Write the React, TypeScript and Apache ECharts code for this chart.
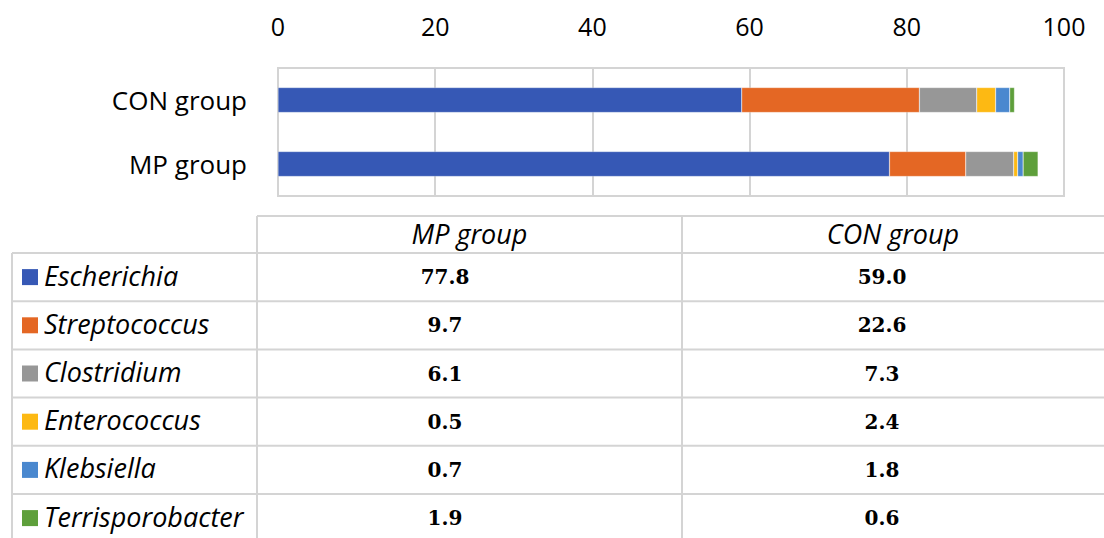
import React, { useEffect, useRef } from "react";
import * as echarts from "echarts";

const groups = ["CON group", "MP group"];
const taxa = ["Escherichia", "Streptococcus", "Clostridium", "Enterococcus", "Klebsiella", "Terrisporobacter"];
const colors = ["#3658b5", "#e46724", "#979797", "#fdb913", "#4a88cf", "#5e9f3b"];
const mpValues = [77.8, 9.7, 6.1, 0.5, 0.7, 1.9];
const conValues = [59.0, 22.6, 7.3, 2.4, 1.8, 0.6];
const tableHeaders = ["MP group", "CON group"];

export default function App() {
  const ref = useRef<HTMLDivElement>(null);
  useEffect(() => {
    if (!ref.current) return;
    const chart = echarts.init(ref.current, undefined, { renderer: "svg" });
    const lineColor = "#d4d4d4";
    const sansFont = "'Open Sans'";
    const headerY = 216;
    const rowTop = 253;
    const rowH = 48.2;
    const colLeft = 12;
    const col1 = 257;
    const col2 = 682;
    const right = 1104;
    const mpX = 445;
    const conX = 882;

    const graphics: any[] = [];
    graphics.push({ type: "line", shape: { x1: col1, y1: headerY, x2: right, y2: headerY }, style: { stroke: lineColor, lineWidth: 2 } });
    for (let i = 0; i <= taxa.length; i++) {
      const y = rowTop + i * rowH;
      graphics.push({ type: "line", shape: { x1: colLeft, y1: y, x2: right, y2: y }, style: { stroke: lineColor, lineWidth: 2 } });
    }
    graphics.push({ type: "line", shape: { x1: colLeft, y1: rowTop, x2: colLeft, y2: 538 }, style: { stroke: lineColor, lineWidth: 2 } });
    graphics.push({ type: "line", shape: { x1: col1, y1: headerY, x2: col1, y2: 538 }, style: { stroke: lineColor, lineWidth: 2 } });
    graphics.push({ type: "line", shape: { x1: col2, y1: headerY, x2: col2, y2: 538 }, style: { stroke: lineColor, lineWidth: 2 } });
    const headerCenters = [(col1 + col2) / 2, (col2 + right) / 2];
    tableHeaders.forEach((h, i) => {
      graphics.push({
        type: "text",
        x: headerCenters[i],
        y: (headerY + rowTop) / 2 - 1,
        style: { text: h, font: `italic 27px ${sansFont}`, fill: "#000", align: "center", verticalAlign: "middle" },
      });
    });
    taxa.forEach((t, i) => {
      const cy = rowTop + i * rowH + rowH / 2;
      graphics.push({ type: "rect", shape: { x: 22, y: cy - 8, width: 16, height: 16 }, style: { fill: colors[i] } });
      graphics.push({
        type: "text",
        x: 44,
        y: cy - 2,
        style: { text: t, font: `italic 27px ${sansFont}`, fill: "#000", align: "left", verticalAlign: "middle" },
      });
      graphics.push({
        type: "text",
        x: mpX,
        y: cy,
        style: { text: mpValues[i].toFixed(1), font: `bold 20px 'DejaVu Serif'`, fill: "#000", align: "center", verticalAlign: "middle" },
      });
      graphics.push({
        type: "text",
        x: conX,
        y: cy,
        style: { text: conValues[i].toFixed(1), font: `bold 20px 'DejaVu Serif'`, fill: "#000", align: "center", verticalAlign: "middle" },
      });
    });

    chart.setOption({
      animation: false,
      grid: { left: 278, right: 40, top: 68, bottom: 342, show: true, borderColor: lineColor, borderWidth: 2, backgroundColor: "transparent" },
      xAxis: {
        type: "value",
        position: "top",
        min: 0,
        max: 100,
        interval: 20,
        axisLine: { show: false },
        axisTick: { show: false },
        axisLabel: { fontFamily: sansFont, fontSize: 25, color: "#000", margin: 30 },
        splitLine: { lineStyle: { color: lineColor, width: 2 } },
      },
      yAxis: {
        type: "category",
        inverse: true,
        data: groups,
        axisLine: { show: false },
        axisTick: { show: false },
        axisLabel: { fontFamily: sansFont, fontSize: 26, color: "#000", margin: 31 },
      },
      series: taxa.map((t, i) => ({
        name: t,
        type: "bar",
        stack: "total",
        barWidth: 25,
        data: [conValues[i], mpValues[i]],
        itemStyle: { color: colors[i], borderColor: "rgba(255,255,255,0.5)", borderWidth: 0.5 },
      })),
      graphic: graphics,
    });
    return () => chart.dispose();
  }, []);
  return <div ref={ref} style={{ width: 1104, height: 538, position: "absolute", left: 0, top: 0 }} />;
}
